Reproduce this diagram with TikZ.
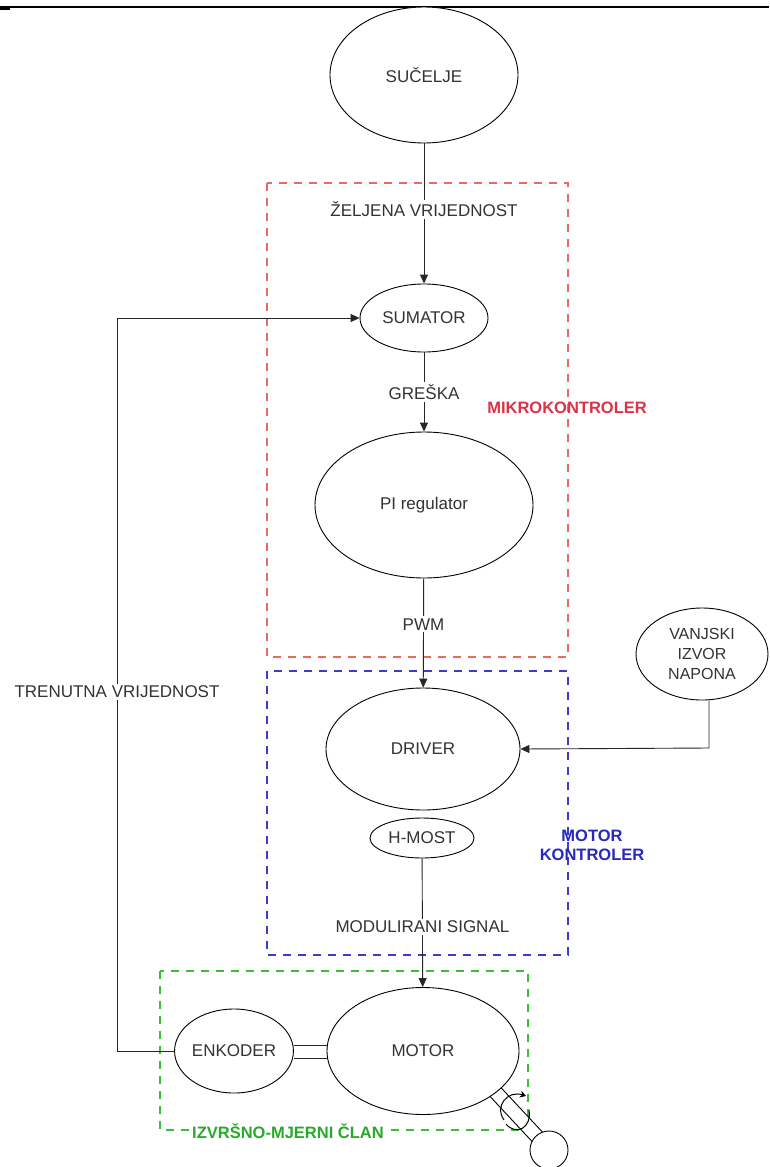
\documentclass[tikz,border=0pt]{standalone}
\usepackage{fontspec}
\setmainfont{Liberation Sans}
\usetikzlibrary{arrows.meta,calc,shapes.geometric}
\definecolor{redbox}{RGB}{234,107,102}
\definecolor{bluebox}{RGB}{60,60,200}
\definecolor{greenbox}{RGB}{60,190,60}
\definecolor{redtext}{RGB}{220,50,70}
\definecolor{bluetext}{RGB}{40,40,190}
\definecolor{greentext}{RGB}{40,170,40}
\tikzset{
  blk/.style={draw, ellipse, fill=white, line width=0.9pt, inner sep=0pt, font=\fontsize{17}{19}\selectfont, text=black!80},
  conn/.style={line width=0.9pt, draw=black!85},
  arr/.style={conn, -{Triangle[length=9pt,width=8pt]}},
  lbl/.style={fill=white, inner sep=2pt, font=\fontsize{17}{19}\selectfont, text=black!80},
  grp/.style={dashed, dash pattern=on 8pt off 7pt, line width=2.2pt},
  grplbl/.style={font=\bfseries\fontsize{16.5}{19}\selectfont, align=center}
}
\begin{document}
\begin{tikzpicture}[x=1pt,y=-1pt]
\useasboundingbox (0,0) rectangle (769,1167);
\fill[white] (0,0) rectangle (769,1167);
\draw[line width=1.2pt] (0,7) -- (769,7);
\draw[line width=2pt] (0,9) -- (10,9);

% groups
\draw[grp, draw=redbox] (267,183) rectangle (568,657);
\draw[grp, draw=bluebox] (267,671) rectangle (568,955);
\draw[grp, draw=greenbox] (160,971) rectangle (528,1130);

% shaft behind motor
\node[draw, fill=white, line width=0.9pt, rotate=-47, minimum width=80pt, minimum height=14pt, inner sep=0pt] (shaft) at (516,1114) {};
\node[draw, circle, fill=white, line width=0.9pt, minimum size=38pt, inner sep=0pt] (wheel) at (549,1150) {};

% nodes
\node[blk, minimum width=188pt, minimum height=136pt] (sucelje) at (424,75) {SUČELJE};
\node[blk, minimum width=128pt, minimum height=68pt] (sumator) at (424,318) {SUMATOR};
\node[blk, minimum width=218pt, minimum height=146pt] (pi) at (424,505) {PI regulator};
\node[blk, minimum width=194pt, minimum height=122pt] (driver) at (423,749) {DRIVER};
\node[blk, minimum width=104pt, minimum height=40pt] (hmost) at (422,838) {H-MOST};
\node[blk, minimum width=192pt, minimum height=127pt] (motor) at (423,1051) {MOTOR};
\node[blk, minimum width=112pt, minimum height=84pt] (enkoder) at (234,1051) {ENKODER};
\node[blk, minimum width=132pt, minimum height=92pt, align=center, font=\fontsize{16}{20}\selectfont] (vanjski) at (702,654) {VANJSKI\\IZVOR\\NAPONA};

% rotation arrow on shaft
\draw[line width=1pt, -{Stealth[length=6pt,width=7pt]}] (504,1120) .. controls (494,1106) and (508,1090) .. (526,1096);
\draw[line width=1pt] (506,1124) .. controls (516,1136) and (532,1128) .. (529,1110);

% shaft between encoder and motor
\draw[conn] (enkoder.east |- 0,1045) -- (motor.west |- 0,1045);
\draw[conn] (enkoder.east |- 0,1058) -- (motor.west |- 0,1058);

% connectors
\draw[arr] (sucelje) -- node[lbl, pos=0.47] {ŽELJENA VRIJEDNOST} (sumator);
\draw[arr] (sumator) -- node[lbl, pos=0.5] {GREŠKA} (pi);
\draw[arr] (pi) -- node[lbl, pos=0.42] {PWM} (driver);
\draw[arr] (hmost) -- node[lbl, pos=0.53] {MODULIRANI SIGNAL} (motor);
\coordinate (fbA) at (117,1051);
\coordinate (fbB) at (117,318);
\draw[arr] (enkoder.west) -- (fbA) -- node[lbl, pos=0.49] {TRENUTNA VRIJEDNOST} (fbB) -- (sumator.west);
\coordinate (vk) at (709,748);
\draw[arr] (vanjski.south -| vk) -- (vk) -- (driver.east);

% group labels
\node[grplbl, text=redtext] (mk) at (567,408) {MIKROKONTROLER};
\node[grplbl, text=bluetext] (mkt) at (592,845) {MOTOR\\KONTROLER};
\node[grplbl, text=greentext, fill=white, inner sep=1pt] (imc) at (288,1131) {IZVRŠNO-MJERNI ČLAN};
\end{tikzpicture}
\end{document}
